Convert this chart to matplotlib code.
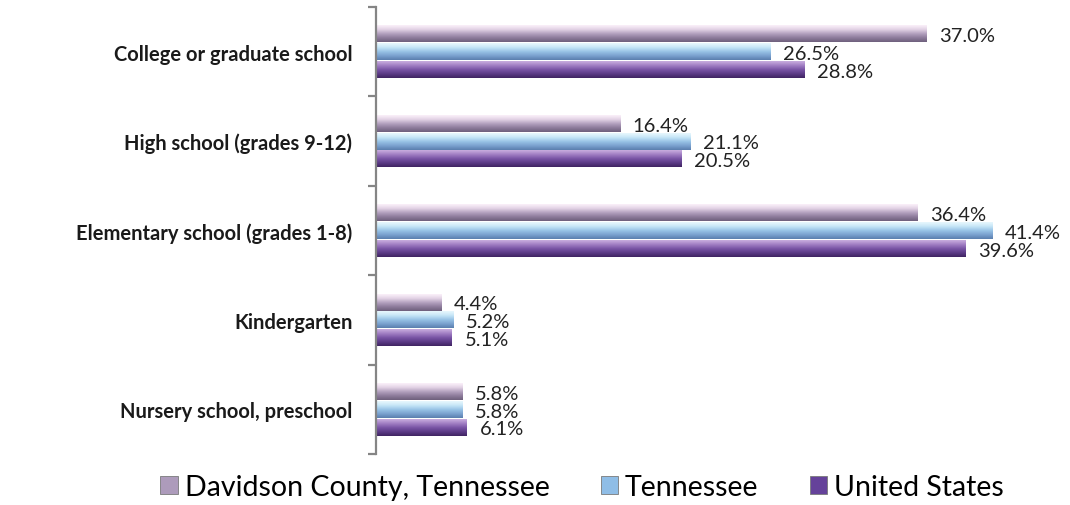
import numpy as np
import matplotlib
matplotlib.use("Agg")
import matplotlib.pyplot as plt
from matplotlib.colors import LinearSegmentedColormap
from matplotlib.patches import Patch

categories = [
    "College or graduate school",
    "High school (grades 9-12)",
    "Elementary school (grades 1-8)",
    "Kindergarten",
    "Nursery school, preschool",
]
series_names = ["Davidson County, Tennessee", "Tennessee", "United States"]
davidson = [37.0, 16.4, 36.4, 4.4, 5.8]
tennessee = [26.5, 21.1, 41.4, 5.2, 5.8]
united_states = [28.8, 20.5, 39.6, 5.1, 6.1]
series_values = [davidson, tennessee, united_states]

# vertical shading (top -> bottom) that gives each bar a rounded look
shades = [
    ["#fbf1fa", "#e3d3e6", "#b4a2bf", "#8e7c9c", "#6e5f7c"],
    ["#e9f8fd", "#c6e6f7", "#98c3e6", "#7aa1cf", "#5a7fae"],
    ["#c9aedf", "#a27fc4", "#7a55a6", "#5c3b87", "#3f2461"],
]
legend_colors = ["#ad9bbb", "#8fbde6", "#65429a"]

plt.rcParams["font.family"] = ["Lato", "DejaVu Sans"]

fig = plt.figure(figsize=(10.7, 5.06), dpi=100)
ax = fig.add_axes([376 / 1070, 1 - 455 / 506, (1046 - 376) / 1070, (455 - 8) / 506])

n = len(categories)
centers = np.arange(n)[::-1]  # first category at the top
bar_h = 0.2
offsets = [bar_h, 0.0, -bar_h]

grad = np.linspace(0, 1, 64).reshape(-1, 1)
for s, vals in enumerate(series_values):
    cmap = LinearSegmentedColormap.from_list(f"shade{s}", shades[s])
    for c, v in zip(centers, vals):
        y = c + offsets[s]
        ax.imshow(grad, cmap=cmap, aspect="auto", interpolation="bicubic",
                  extent=(0, v, y - bar_h / 2 * 0.95, y + bar_h / 2 * 0.95),
                  origin="upper", zorder=2)
        ax.text(v + 0.85, y - 0.02, f"{v:.1f}%", va="center", ha="left",
                fontsize=14.5, color="#222222", zorder=3)

ax.set_xlim(0, 45)
ax.set_ylim(-0.5, n - 0.5)

for side in ["top", "right", "bottom"]:
    ax.spines[side].set_visible(False)
ax.spines["left"].set_color("#858585")
ax.spines["left"].set_linewidth(1.6)

ax.set_xticks([])
ax.set_yticks(centers)
ax.set_yticklabels(categories, fontsize=14.5, fontweight="bold", color="#1a1a1a")
ax.tick_params(axis="y", which="major", length=0, pad=17)
ax.set_yticks(np.arange(n + 1) - 0.5, minor=True)
ax.tick_params(axis="y", which="minor", length=6, width=1.6, color="#858585")

handles = [Patch(facecolor=col, edgecolor="#7a7a7a", linewidth=0.6) for col in legend_colors]
fig.legend(handles, series_names, loc="center", bbox_to_anchor=(0.544, 1 - 488 / 506),
           ncol=3, frameon=False, fontsize=20.5, handlelength=0.6, handleheight=0.6,
           handletextpad=0.25, columnspacing=1.8, borderaxespad=0)

fig.savefig("out.png", dpi=100, facecolor="white")
